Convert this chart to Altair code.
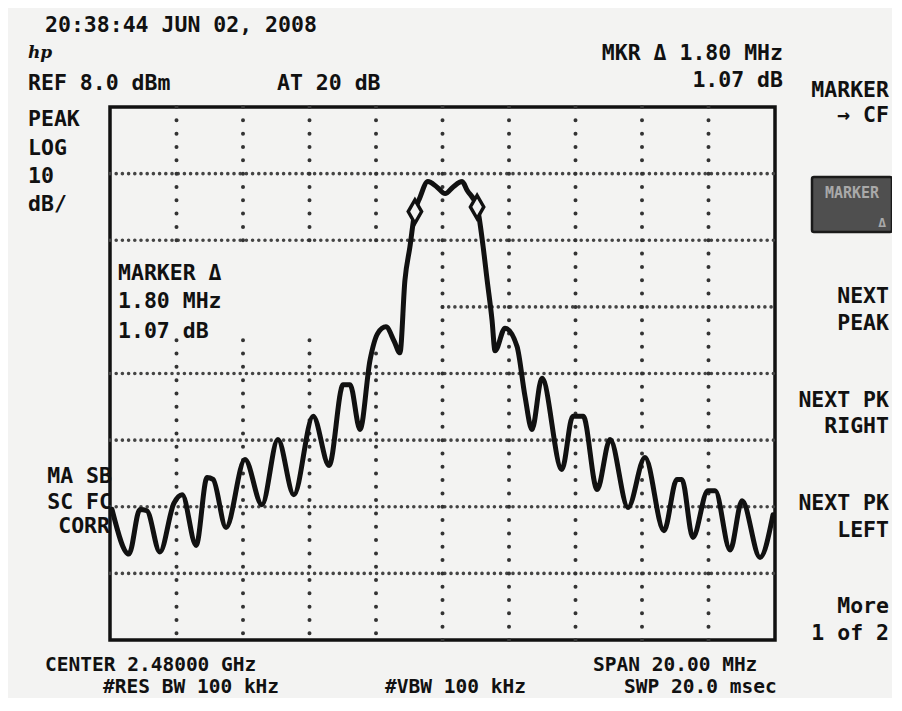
import altair as alt
import pandas as pd

# ---------------- data ----------------
# Spectrum analyser: CENTER 2.48 GHz, SPAN 20 MHz, REF 8.0 dBm, 10 dB/div
X_DOMAIN = [2470.0, 2490.0]
Y_DOMAIN = [-72.0, 8.0]

FREQ_MHZ = [
    2470.06, 2470.57, 2470.90, 2471.11, 2471.50, 2471.92, 2472.17, 2472.59,
    2472.92, 2473.10, 2473.49, 2474.06, 2474.57, 2475.05, 2475.53, 2476.11,
    2476.59, 2477.01, 2477.22, 2477.52, 2477.82, 2478.05, 2478.30, 2478.55,
    2478.72, 2478.87, 2479.02, 2479.17, 2479.32, 2479.56, 2479.83, 2480.08,
    2480.32, 2480.59, 2480.74, 2481.04, 2481.22, 2481.34, 2481.49, 2481.58,
    2481.88, 2482.24, 2482.48, 2482.69, 2482.99, 2483.59, 2483.92, 2484.23,
    2484.65, 2485.04, 2485.58, 2486.09, 2486.66, 2487.05, 2487.20, 2487.53,
    2487.98, 2488.20, 2488.65, 2489.01, 2489.55, 2489.94,
]
LEVEL_DBM = [
    -52.4, -59.1, -52.4, -52.6, -58.8, -51.5, -50.2, -57.8,
    -47.6, -47.9, -55.1, -44.9, -51.7, -41.9, -50.2, -38.4,
    -45.8, -33.7, -33.7, -40.4, -30.0, -26.0, -25.0, -27.2,
    -28.9, -18.0, -13.0, -7.7, -5.6, -3.2, -4.0, -5.0,
    -4.0, -3.2, -4.5, -7.0, -12.9, -17.9, -24.0, -28.6,
    -25.2, -27.9, -35.4, -40.4, -32.7, -46.4, -38.4, -38.4,
    -49.4, -41.9, -52.1, -44.6, -55.6, -47.9, -47.9, -56.6,
    -49.6, -49.6, -58.5, -51.1, -59.6, -53.2,
]

MARKER_FREQ = [2479.17, 2481.04]
MARKER_DBM = [-7.7, -7.0]

# graticule segments (some parts are blanked on the screen)
HGRID_DBM = [-2, -12, -22, -32, -42, -52, -62]
HGRID_FROM = [2470, 2470, 2480, 2470, 2470, 2470, 2470]
HGRID_TO = [2490, 2490, 2490, 2490, 2490, 2490, 2490]

VGRID_MHZ = [2472, 2472, 2474, 2474, 2476, 2476, 2478, 2478, 2480, 2482, 2484, 2486, 2488]
VGRID_TOP = [8, -27, 8, -27, 8, -27, 8, -29, 8, 8, 8, 8, 8]
VGRID_BOT = [-12, -72, -12, -72, -12, -72, -12, -72, -72, -72, -72, -72, -72]

# ---------------- frames ----------------
trace_df = pd.DataFrame({"f": FREQ_MHZ, "l": LEVEL_DBM})
marker_df = pd.DataFrame({"f": MARKER_FREQ, "l": MARKER_DBM})
h_df = pd.DataFrame({"lvl": HGRID_DBM, "x1": HGRID_FROM, "x2": HGRID_TO})
v_df = pd.DataFrame({"f": VGRID_MHZ, "top": VGRID_TOP, "bot": VGRID_BOT})

xs = alt.Scale(domain=X_DOMAIN, nice=False, zero=False)
ys = alt.Scale(domain=Y_DOMAIN, nice=False, zero=False)

BG = "#f3f3f2"
INK = "#111111"
FONT = "DejaVu Sans Mono"
FS = 21.5
PLOT_W, PLOT_H = 665, 533

hgrid = alt.Chart(h_df).mark_rule(
    color="#444444", strokeWidth=3.6, strokeDash=[0, 6.2], strokeCap="round"
).encode(
    x=alt.X("x1:Q", scale=xs, axis=None), x2="x2:Q",
    y=alt.Y("lvl:Q", scale=ys, axis=None),
)

vgrid = alt.Chart(v_df).mark_rule(
    color="#333333", strokeWidth=4.0, strokeDash=[0, PLOT_H / 40], strokeCap="round"
).encode(
    x=alt.X("f:Q", scale=xs, axis=None),
    y=alt.Y("top:Q", scale=ys, axis=None), y2="bot:Q",
)

trace = alt.Chart(trace_df).mark_line(
    color=INK, strokeWidth=5, interpolate="monotone", strokeJoin="round", strokeCap="round"
).encode(
    x=alt.X("f:Q", scale=xs, axis=None),
    y=alt.Y("l:Q", scale=ys, axis=None),
)

markers = alt.Chart(marker_df).mark_point(
    shape="M0,-1.3L0.75,0L0,1.3L-0.75,0Z", size=320, filled=True,
    fill=BG, stroke=INK, strokeWidth=3.4, opacity=1, fillOpacity=1,
).encode(
    x=alt.X("f:Q", scale=xs, axis=None),
    y=alt.Y("l:Q", scale=ys, axis=None),
)

# ---------------- screen annotations (photo coords relative to plot origin) ----------------
OX, OY = 110, 113  # plot origin in the reference photo

LABELS = [
    ("20:38:44 JUN 02, 2008", 45, 38, "left", FS),
    ("REF 8.0 dBm", 28, 96, "left", FS),
    ("AT 20 dB", 277, 96, "left", FS),
    ("MKR \u0394 1.80 MHz", 783, 66, "right", FS),
    ("1.07 dB", 783, 93, "right", FS),
    ("PEAK", 28, 132, "left", FS),
    ("LOG", 28, 161, "left", FS),
    ("10", 28, 189, "left", FS),
    ("dB/", 28, 217, "left", FS),
    ("MARKER", 889, 103, "right", FS),
    ("\u2192 CF", 889, 128, "right", FS),
    ("NEXT", 889, 309, "right", FS),
    ("PEAK", 889, 336, "right", FS),
    ("NEXT PK", 889, 413, "right", FS),
    ("RIGHT", 889, 439, "right", FS),
    ("NEXT PK", 889, 516, "right", FS),
    ("LEFT", 889, 543, "right", FS),
    ("More", 889, 619, "right", FS),
    ("1 of 2", 889, 646, "right", FS),
    ("MA SB", 112, 489, "right", FS),
    ("SC FC", 112, 515, "right", FS),
    ("CORR", 110, 539, "right", FS),
    ("MARKER \u0394", 118, 286, "left", FS),
    ("1.80 MHz", 118, 314, "left", FS),
    ("1.07 dB", 118, 344, "left", FS),
    ("CENTER 2.48000 GHz", 45, 677, "left", 19.5),
    ("#RES BW 100 kHz", 103, 699, "left", 19.5),
    ("#VBW 100 kHz", 385, 699, "left", 19.5),
    ("SPAN 20.00 MHz", 593, 677, "left", 19.5),
    ("SWP 20.0 msec", 624, 699, "left", 19.5),
]

SHIFT = 6  # whole screen drawn a few px higher so the bottom rows fit


def label(txt, px, py, align, size=FS, color=INK, font=FONT, style="normal", weight="bold"):
    return alt.Chart(pd.DataFrame({"t": [txt]})).mark_text(
        align=align, baseline="alphabetic", font=font, fontSize=size,
        fontWeight=weight, fontStyle=style, color=color,
    ).encode(x=alt.value(px - OX), y=alt.value(py - OY), text="t:N")


texts = [label(t, x, y, a, s) for (t, x, y, a, s) in LABELS]
texts.append(label("hp", 28, 64, "left", size=17, font="DejaVu Serif", style="italic"))

# highlighted softkey "MARKER Δ"
key_box = alt.Chart(pd.DataFrame({"k": [1]})).mark_rect(
    color="#4f4f4f", stroke="#1a1a1a", strokeWidth=2.5, cornerRadius=2
).encode(
    x=alt.value(812 - OX), x2=alt.value(892 - OX),
    y=alt.value(183 - OY), y2=alt.value(238 - OY),
)
key_t1 = label("MARKER", 852, 204, "center", size=15, color="#a9a9a9")
key_t2 = label("\u0394", 886, 233, "right", size=13, color="#a9a9a9")

chart = alt.layer(
    hgrid, vgrid, trace, markers, key_box, key_t1, key_t2, *texts
).properties(
    width=PLOT_W, height=PLOT_H,
    background=BG,
    autosize="none",
    padding={"left": 102, "top": OY - 8 - SHIFT, "right": 117, "bottom": 58},
).configure_view(stroke=INK, strokeWidth=3.5)

chart.save("out.html", embed_options={"renderer": "svg", "actions": False})
